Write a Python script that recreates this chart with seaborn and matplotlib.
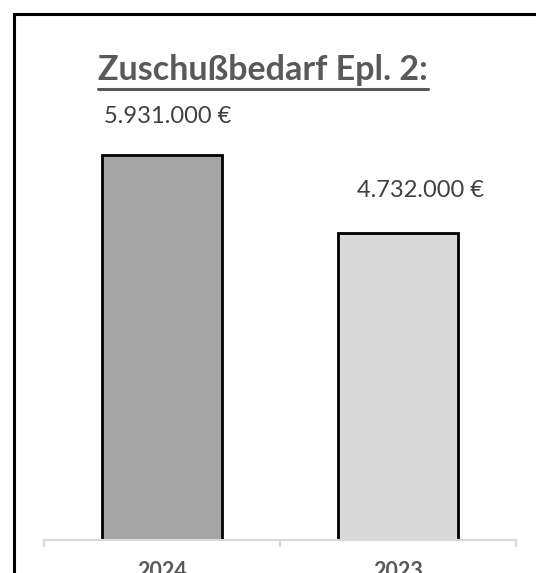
import pandas as pd
import matplotlib.pyplot as plt
import seaborn as sns
from matplotlib.patches import Rectangle
from matplotlib.lines import Line2D

# --- Daten ---
years = ["2024", "2023"]
values = [5931000, 4732000]
bar_colors = ["#a5a5a5", "#d9d9d9"]
title = "Zuschußbedarf Epl. 2:"

df = pd.DataFrame({"Jahr": years, "Betrag": values})

sns.set_theme(style="white")
plt.rcParams["font.family"] = ["Lato", "DejaVu Sans"]

W, H = 536, 573
fig = plt.figure(figsize=(W / 100, H / 100), dpi=100)
ax = fig.add_axes([44 / W, (H - 540) / H, (516 - 44) / W, (540 - 86) / H])

sns.barplot(data=df, x="Jahr", y="Betrag", hue="Jahr", order=years,
            palette=dict(zip(years, bar_colors)), legend=False,
            width=0.505, edgecolor="black", linewidth=2.0, ax=ax)

ax.set_xlim(-0.5, 1.5)
ax.set_ylim(0, 7000000)
for s in ["top", "right", "left"]:
    ax.spines[s].set_visible(False)
ax.spines["bottom"].set_color("#d9d9d9")
ax.spines["bottom"].set_linewidth(1.5)
ax.set_yticks([])
ax.set_xlabel("")
ax.set_ylabel("")

# Trennstriche zwischen den Kategorien
ax.set_xticks([-0.5, 0.5, 1.5])
ax.set_xticklabels([])
ax.tick_params(axis="x", which="major", direction="out", length=5,
               width=1.5, color="#d9d9d9", bottom=True)
ax.set_xticks([0, 1], minor=True)
ax.set_xticklabels(years, minor=True, fontsize=15.5, fontweight="bold",
                   color="#595959")
ax.tick_params(axis="x", which="minor", length=0, pad=15)

# Wertebeschriftungen
label_offsets = [(4, 28), (16, 31)]
for i, (v, off) in enumerate(zip(values, label_offsets)):
    txt = f"{v:,.0f} €".replace(",", ".")
    ax.annotate(txt, (i, v), xytext=off, textcoords="offset points",
                ha="center", va="center", fontsize=17, color="#404040")

# Titel mit Unterstreichung
t = fig.text(263 / W, 1 - 70 / H, title, ha="center", va="center",
             fontsize=24.5, fontweight="bold", color="#595959")
fig.canvas.draw()
bb = t.get_window_extent(renderer=fig.canvas.get_renderer())
uy = (H - 89) / H
fig.add_artist(Line2D([bb.x0 / W, bb.x1 / W], [uy, uy], transform=fig.transFigure,
                      color="#595959", linewidth=2.2))

# Rahmen
fig.add_artist(Rectangle((13.5 / W, -0.2), 1.2, 1.2 - 13.5 / H + 0.0,
                         transform=fig.transFigure, fill=False,
                         edgecolor="black", linewidth=2.2))

fig.savefig("out.png", dpi=100)
